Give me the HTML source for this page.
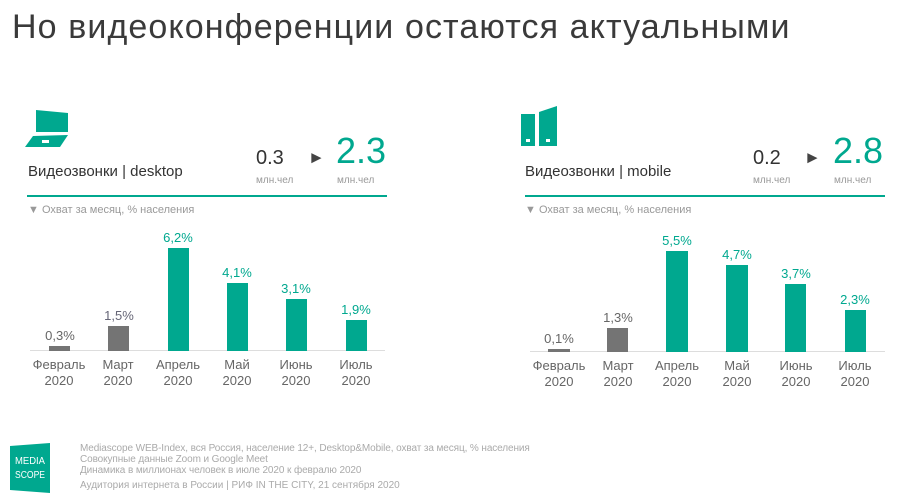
<!DOCTYPE html>
<html><head><meta charset="utf-8"><style>
body{margin:0;width:900px;height:496px;background:#fff;position:relative;overflow:hidden;font-family:"Liberation Sans","DejaVu Sans",sans-serif}
.a{position:absolute;white-space:nowrap}
.bar{position:absolute}
.t{background:#00a88f}.g{background:#747474}
.v{position:absolute;font-size:13px;text-align:center;width:60px}
.x{position:absolute;font-size:13px;color:#666;text-align:center;width:70px;line-height:16px}
</style></head><body>
<div class="a" style="left:12px;top:8px;font-size:34px;color:#3a3a3a;letter-spacing:1.1px">Но видеоконференции остаются актуальными</div>

<svg class="a" style="left:25px;top:110px" width="46" height="37" viewBox="0 0 46 37"><polygon points="11,0 43,3 43,22 11,22" fill="#00a88f"/><polygon points="8,26 43,25 35,37 0,37" fill="#00a88f"/><rect x="17" y="30" width="7" height="3" fill="#fff"/></svg>
<div class="a" style="left:28px;top:163px;font-size:15px;color:#333">Видеозвонки | desktop</div>
<div class="a" style="left:256px;top:147px;font-size:20px;color:#333">0.3</div>
<div class="a" style="left:256px;top:175px;font-size:10px;color:#999">млн.чел</div>
<div class="a" style="left:308px;top:148px;font-size:17px;color:#444">►</div>
<div class="a" style="left:336px;top:130px;font-size:36px;color:#00a88f">2.3</div>
<div class="a" style="left:337px;top:175px;font-size:10px;color:#999">млн.чел</div>
<div class="a" style="left:27px;top:195px;width:360px;height:2px;background:#00a88f"></div>
<div class="a" style="left:28px;top:204px;font-size:11px;color:#999">▼ Охват за месяц, % населения</div>
<div class="a" style="left:30px;top:350px;width:355px;height:1px;background:#ddd"></div>
<div class="bar g" style="left:49px;top:346px;width:21px;height:5px"></div>
<div class="bar g" style="left:108px;top:326px;width:21px;height:25px"></div>
<div class="bar t" style="left:168px;top:248px;width:21px;height:103px"></div>
<div class="bar t" style="left:227px;top:283px;width:21px;height:68px"></div>
<div class="bar t" style="left:286px;top:299px;width:21px;height:52px"></div>
<div class="bar t" style="left:346px;top:320px;width:21px;height:31px"></div>
<div class="v" style="left:30px;top:328px;color:#666">0,3%</div>
<div class="v" style="left:89px;top:308px;color:#667">1,5%</div>
<div class="v" style="left:148px;top:230px;color:#00a88f">6,2%</div>
<div class="v" style="left:207px;top:265px;color:#00a88f">4,1%</div>
<div class="v" style="left:266px;top:281px;color:#00a88f">3,1%</div>
<div class="v" style="left:326px;top:302px;color:#00a88f">1,9%</div>
<div class="x" style="left:24px;top:357px">Февраль<br>2020</div>
<div class="x" style="left:83px;top:357px">Март<br>2020</div>
<div class="x" style="left:143px;top:357px">Апрель<br>2020</div>
<div class="x" style="left:202px;top:357px">Май<br>2020</div>
<div class="x" style="left:261px;top:357px">Июнь<br>2020</div>
<div class="x" style="left:321px;top:357px">Июль<br>2020</div>

<svg class="a" style="left:521px;top:106px" width="36" height="40" viewBox="0 0 36 40"><polygon points="0,8 14,8 14,40 0,40" fill="#00a88f"/><polygon points="18,6 36,0 36,40 18,40" fill="#00a88f"/><rect x="5" y="33" width="4" height="3" fill="#fff"/><rect x="25" y="33" width="4" height="3" fill="#fff"/></svg>
<div class="a" style="left:525px;top:163px;font-size:15px;color:#333">Видеозвонки | mobile</div>
<div class="a" style="left:753px;top:147px;font-size:20px;color:#333">0.2</div>
<div class="a" style="left:753px;top:175px;font-size:10px;color:#999">млн.чел</div>
<div class="a" style="left:804px;top:148px;font-size:17px;color:#444">►</div>
<div class="a" style="left:833px;top:130px;font-size:36px;color:#00a88f">2.8</div>
<div class="a" style="left:834px;top:175px;font-size:10px;color:#999">млн.чел</div>
<div class="a" style="left:525px;top:195px;width:360px;height:2px;background:#00a88f"></div>
<div class="a" style="left:525px;top:204px;font-size:11px;color:#999">▼ Охват за месяц, % населения</div>
<div class="a" style="left:530px;top:351px;width:355px;height:1px;background:#ddd"></div>
<div class="bar g" style="left:548px;top:349px;width:22px;height:3px"></div>
<div class="bar g" style="left:607px;top:328px;width:21px;height:24px"></div>
<div class="bar t" style="left:666px;top:251px;width:22px;height:101px"></div>
<div class="bar t" style="left:726px;top:265px;width:22px;height:87px"></div>
<div class="bar t" style="left:785px;top:284px;width:21px;height:68px"></div>
<div class="bar t" style="left:845px;top:310px;width:21px;height:42px"></div>
<div class="v" style="left:529px;top:331px;color:#666">0,1%</div>
<div class="v" style="left:588px;top:310px;color:#666">1,3%</div>
<div class="v" style="left:647px;top:233px;color:#00a88f">5,5%</div>
<div class="v" style="left:707px;top:247px;color:#00a88f">4,7%</div>
<div class="v" style="left:766px;top:266px;color:#00a88f">3,7%</div>
<div class="v" style="left:825px;top:292px;color:#00a88f">2,3%</div>
<div class="x" style="left:524px;top:358px">Февраль<br>2020</div>
<div class="x" style="left:583px;top:358px">Март<br>2020</div>
<div class="x" style="left:642px;top:358px">Апрель<br>2020</div>
<div class="x" style="left:702px;top:358px">Май<br>2020</div>
<div class="x" style="left:761px;top:358px">Июнь<br>2020</div>
<div class="x" style="left:820px;top:358px">Июль<br>2020</div>

<svg class="a" style="left:10px;top:443px" width="40" height="50" viewBox="0 0 40 50"><polygon points="0,3 40,0 40,50 0,47" fill="#00a88f"/><text x="20" y="21" font-size="10" fill="#fff" text-anchor="middle" textLength="30" lengthAdjust="spacingAndGlyphs">MEDIA</text><text x="20" y="35" font-size="10" fill="#fff" text-anchor="middle" textLength="30" lengthAdjust="spacingAndGlyphs">SCOPE</text></svg>
<div class="a" style="left:80px;top:443px;font-size:10px;color:#aaa;line-height:11px;letter-spacing:-0.1px">Mediascope WEB-Index, вся Россия, население 12+, Desktop&amp;Mobile, охват за месяц, % населения<br>Совокупные данные Zoom и Google Meet<br>Динамика в миллионах человек в июле 2020 к февралю 2020</div>
<div class="a" style="left:80px;top:480px;font-size:10px;color:#aaa">Аудитория интернета в России | РИФ IN THE CITY, 21 сентября 2020</div>
</body></html>
